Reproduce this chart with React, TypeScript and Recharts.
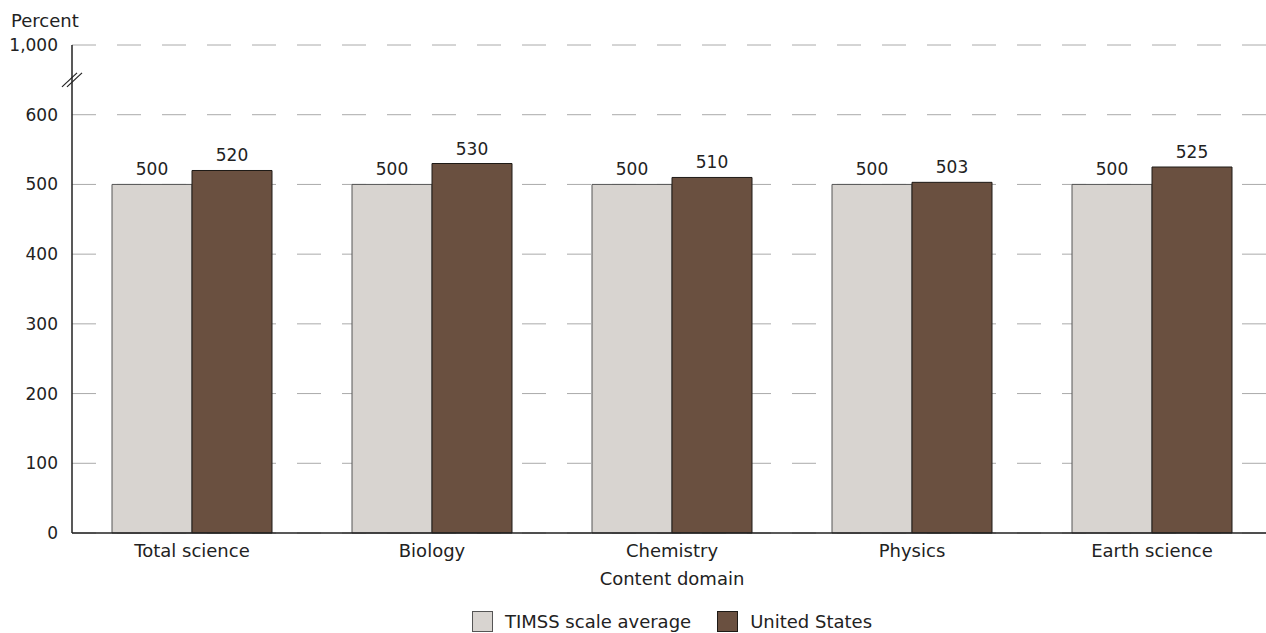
import { BarChart, Bar, XAxis, YAxis, CartesianGrid, Legend, LabelList, ReferenceLine } from "recharts";

const categories = ["Total science", "Biology", "Chemistry", "Physics", "Earth science"];
const timssAverage = [500, 500, 500, 500, 500];
const unitedStates = [520, 530, 510, 503, 525];
const yTicks = [0, 100, 200, 300, 400, 500, 600, 700];
// the top tick sits above an axis break and stands for 1,000
const breakValue = 650;

const data = categories.map((name, i) => ({
  name,
  timss: timssAverage[i],
  us: unitedStates[i],
}));

const FONT = "'DejaVu Sans', sans-serif";
const TEXT = "#222";

const fmtY = (v: number) => (v === 700 ? "1,000" : String(v));

function AxisBreak(props: any) {
  const { x1, y1 } = props;
  if (x1 == null || y1 == null) return null;
  return (
    <g stroke="#222" strokeWidth={1.2}>
      <line x1={x1 - 10} y1={y1 + 7} x2={x1 + 5} y2={y1 - 7} />
      <line x1={x1 - 5} y1={y1 + 7} x2={x1 + 10} y2={y1 - 7} />
    </g>
  );
}

function LegendBox() {
  const items = [
    { label: "TIMSS scale average", fill: "#d8d4d0", stroke: "#555" },
    { label: "United States", fill: "#6a5040", stroke: "#1e1a16" },
  ];
  return (
    <div style={{ display: "flex", justifyContent: "center", alignItems: "center", height: 24, gap: 26, fontFamily: FONT, fontSize: 18, color: TEXT }}>
      {items.map((it) => (
        <div key={it.label} style={{ display: "flex", alignItems: "center", gap: 12 }}>
          <span style={{ width: 19, height: 19, background: it.fill, border: `1px solid ${it.stroke}`, display: "inline-block" }} />
          <span>{it.label}</span>
        </div>
      ))}
    </div>
  );
}

export default function App() {
  return (
    <div style={{ position: "absolute", left: 0, top: 0, width: 1266, height: 633, overflow: "hidden", background: "#fff" }}>
      <div style={{ position: "absolute", left: 11, top: 10, fontFamily: FONT, fontSize: 18, color: TEXT, lineHeight: "normal" }}>Percent</div>
      <BarChart
        width={1280}
        height={633}
        data={data}
        margin={{ top: 45, right: 8, bottom: 0, left: 0 }}
        barSize={80}
        barGap={0}
      >
        <CartesianGrid vertical={false} stroke="#aaa" strokeDasharray="24 21" />
        <XAxis
          dataKey="name"
          height={76}
          tickLine={false}
          tickSize={0}
          tickMargin={11}
          axisLine={{ stroke: "#222", strokeWidth: 1.5 }}
          tick={{ fontFamily: FONT, fontSize: 18, fill: TEXT }}
          label={{ value: "Content domain", position: "insideBottom", offset: 24, style: { fontFamily: FONT, fontSize: 18, fill: TEXT } }}
        />
        <YAxis
          domain={[0, 700]}
          ticks={yTicks}
          tickFormatter={fmtY}
          width={72}
          tickLine={false}
          tickSize={0}
          tickMargin={14}
          axisLine={{ stroke: "#222", strokeWidth: 1.5 }}
          tick={{ fontFamily: FONT, fontSize: 17, fill: TEXT }}
        />
        <ReferenceLine y={breakValue} stroke="none" shape={<AxisBreak />} />
        <Legend verticalAlign="bottom" height={24} wrapperStyle={{ left: 72, width: 1200 }} content={<LegendBox />} />
        <Bar dataKey="timss" name="TIMSS scale average" fill="#d8d4d0" stroke="#555" strokeWidth={1} isAnimationActive={false}>
          <LabelList dataKey="timss" position="top" offset={9} style={{ fontFamily: FONT, fontSize: 17, fill: TEXT }} />
        </Bar>
        <Bar dataKey="us" name="United States" fill="#6a5040" stroke="#1e1a16" strokeWidth={1} isAnimationActive={false}>
          <LabelList dataKey="us" position="top" offset={9} style={{ fontFamily: FONT, fontSize: 17, fill: TEXT }} />
        </Bar>
      </BarChart>
    </div>
  );
}
